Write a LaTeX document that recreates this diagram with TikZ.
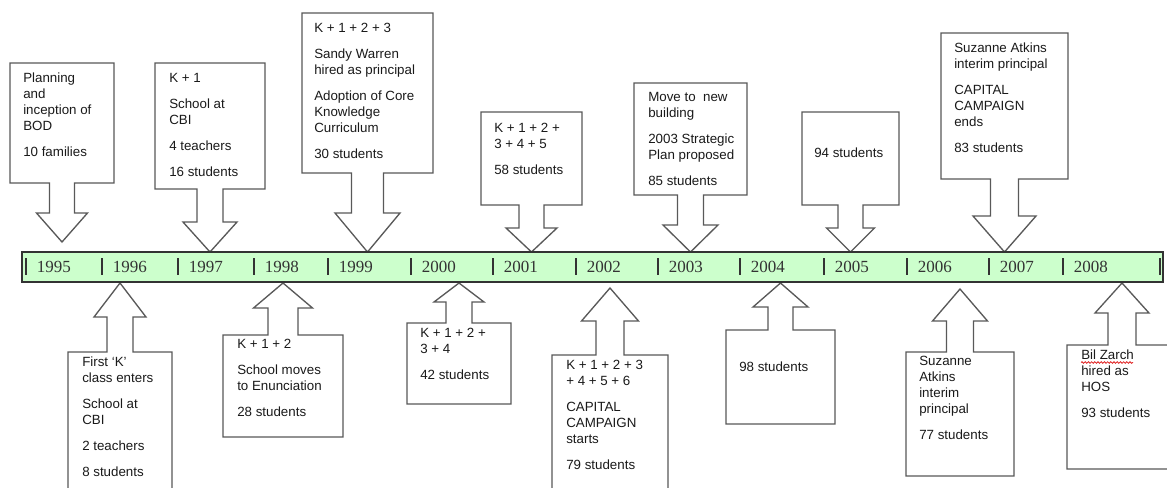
\documentclass[tikz,border=0pt]{standalone}
\usepackage{fontspec}
\setmainfont{Liberation Sans}
\newfontfamily\yearfamily{Liberation Serif}
\usetikzlibrary{decorations.pathmorphing}
\definecolor{ink}{HTML}{1A1A1A}
\definecolor{edge}{HTML}{595959}
\definecolor{barfill}{HTML}{CCFFCC}
\definecolor{barline}{HTML}{333333}
\definecolor{spell}{HTML}{E02020}
\newcommand{\notefont}{\fontsize{10}{12}\selectfont}
\newcommand{\yearfont}{\yearfamily\fontsize{12.75}{14}\selectfont}
% #1 centre x, #2 box half width, #3 far box edge, #4 near box edge,
% #5 head base, #6 tip, #7 shaft half width, #8 head half width
\newcommand{\callout}[8]{%
  \draw[calloutline] (#1-#2,#3) -- (#1+#2,#3) -- (#1+#2,#4) -- (#1+#7,#4)
    -- (#1+#7,#5) -- (#1+#8,#5) -- (#1,#6) -- (#1-#8,#5) -- (#1-#7,#5)
    -- (#1-#7,#4) -- (#1-#2,#4) -- cycle;
}

\begin{document}
\begin{tikzpicture}[x=0.75pt,y=-0.75pt,
  calloutline/.style={draw=edge, fill=white, line width=1pt, line join=miter},
  note/.style={anchor=north west, inner sep=0pt, align=left, font=\notefont, text=ink},
  yearlabel/.style={anchor=west, inner sep=0pt, font=\yearfont, text=barline},
  yeartick/.style={draw=barline, line width=0.9pt}]
  \useasboundingbox (0,0) rectangle (1167,487);
  \fill[white] (0,0) rectangle (1167,487);
  \clip (0,0) rectangle (1167,487);

  % Events above the bar.
  \callout{62}{52}{63}{183}{213}{242}{12.5}{25.5}
  \callout{210}{55}{63}{189}{222}{252}{13}{27}
  \callout{367.5}{65.5}{13}{173}{213}{252}{16}{32.5}
  \callout{531.5}{50.5}{112}{205}{228}{252}{12.5}{25.5}
  \callout{690.5}{56.5}{83}{195}{225}{252}{13}{27.5}
  \callout{850.5}{48.5}{112}{205}{228}{252}{12.5}{24}
  \callout{1004.5}{63.5}{33}{179}{216}{252}{14}{31.5}

  % Events below the bar.
  \callout{120}{52}{500}{352}{317}{283}{13}{26}
  \callout{283}{60}{437}{335}{308}{283}{15}{29.5}
  \callout{459}{52}{404}{323}{302}{283}{13}{25}
  \callout{610}{58}{500}{355}{321}{288}{14}{28.5}
  \callout{780.5}{54.5}{424}{330}{307}{283}{12.5}{27.5}
  \callout{960}{54}{476}{352}{321}{289}{13.5}{27.5}
  \callout{1122}{55}{469}{345}{313}{283}{14}{27}

  % Timeline bar.
  \draw[fill=barfill, draw=barline, line width=0.9pt] (22,252) rectangle (1163,282);
  \foreach \yx/\yr in {26/1995,102/1996,178/1997,254/1998,328/1999,411/2000,493/2001,
                       576/2002,658/2003,740/2004,824/2005,907/2006,989/2007,1063/2008} {
    \draw[yeartick] (\yx,258) -- (\yx,275);
    \node[yearlabel] (y\yr) at (\yx+10.5,267) {\yr};
  }
  \draw[yeartick] (1160,258) -- (1160,275);

  % Texts above.
  \node[note] (n1995) at (23,73) {Planning\\and\\inception of\\BOD\\[7.5pt]10 families};
  \node[note] (n1997) at (169,73) {K + 1\\[7.5pt]School at\\CBI\\[7.5pt]4 teachers\\[7.5pt]16 students};
  \node[note] (n1999) at (314,23) {K + 1 + 2 + 3\\[7.5pt]Sandy Warren\\hired as principal\\[7.5pt]Adoption of Core\\Knowledge\\Curriculum\\[7.5pt]30 students};
  \node[note] (n2001) at (494,123) {K + 1 + 2 +\\3 + 4 + 5\\[7.5pt]58 students};
  \node[note] (n2003) at (648,92) {Move to\ \ new\\building\\[7.5pt]2003 Strategic\\Plan proposed\\[7.5pt]85 students};
  \node[note] (n2005) at (814,148) {94 students};
  \node[note] (n2007) at (954,43) {Suzanne Atkins\\interim principal\\[7.5pt]CAPITAL\\CAMPAIGN\\ends\\[7.5pt]83 students};

  % Texts below.
  \node[note] (n1996) at (82,357) {First ‘K’\\class enters\\[7.5pt]School at\\CBI\\[7.5pt]2 teachers\\[7.5pt]8 students};
  \node[note] (n1998) at (237,339) {K + 1 + 2\\[7.5pt]School moves\\to Enunciation\\[7.5pt]28 students};
  \node[note] (n2000) at (420,328) {K + 1 + 2 +\\3 + 4\\[7.5pt]42 students};
  \node[note] (n2002) at (566,360) {K + 1 + 2 + 3\\+ 4 + 5 + 6\\[7.5pt]CAPITAL\\CAMPAIGN\\starts\\[7.5pt]79 students};
  \node[note] (n2004) at (739,362) {98 students};
  \node[note] (n2006) at (919,356) {Suzanne\\Atkins\\interim\\principal\\[7.5pt]77 students};
  \node[note] (n2008) at (1081,350) {Bil Zarch\\hired as\\HOS\\[7.5pt]93 students};
  \draw[spell, line width=0.6pt, decorate,
        decoration={snake, amplitude=0.6pt, segment length=2.4pt}] (1081,362.5) -- (1133,362.5);
\end{tikzpicture}
\end{document}
